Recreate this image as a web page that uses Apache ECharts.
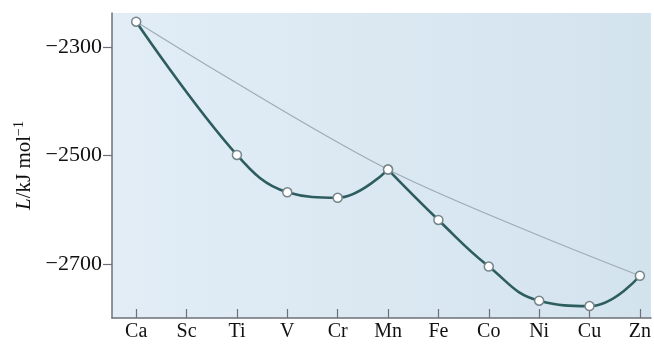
<!DOCTYPE html>
<html><head><meta charset="utf-8">
<script src="https://cdn.jsdelivr.net/npm/echarts@6/dist/echarts.min.js"></script>
<style>html,body{margin:0;padding:0;background:#fff}#c{width:654px;height:344px}</style>
</head><body><div id="c"></div>
<script>
const categories = ['Ca','Sc','Ti','V','Cr','Mn','Fe','Co','Ni','Cu','Zn'];
const latticeEnergy = [-2253, null, -2499, -2568, -2578, -2526, -2619, -2705, -2768, -2778, -2722];
const referenceCurve = [-2253, null, null, null, null, -2526, null, null, null, null, -2722];
const yTicks = [-2300, -2500, -2700];
const peakIndex = 5; // Mn: curve has a corner here

const pts = [];
latticeEnergy.forEach((v, i) => { if (v !== null) pts.push([i, v]); });
const leftPart = pts.filter(p => p[0] <= peakIndex);
const rightPart = pts.filter(p => p[0] >= peakIndex);
const refData = [];
referenceCurve.forEach((v, i) => { if (v !== null) refData.push([i, v]); });

const serif = '"Liberation Serif","DejaVu Serif",serif';
const lineStyle = {color: '#2e5d60', width: 2.6};
const itemStyle = {color: '#ffffff', borderColor: '#76868b', borderWidth: 1.5};
const chart = echarts.init(document.getElementById('c'), null, {renderer: 'canvas'});
chart.setOption({
  animation: false,
  grid: {
    left: 112, right: 0, top: 13, bottom: 26, show: true, borderWidth: 0,
    backgroundColor: new echarts.graphic.LinearGradient(0, 0, 1, 0, [
      {offset: 0, color: '#e2edf6'}, {offset: 1, color: '#d3e3ee'}
    ])
  },
  xAxis: {
    type: 'value', min: -0.48, max: 10.22, interval: 1,
    axisLine: {show: true, onZero: false, lineStyle: {color: '#6d7079', width: 1.5}},
    axisTick: {show: true, inside: true, length: 9, lineStyle: {color: '#6d7079', width: 1.2},
      customValues: categories.map((c, i) => i)},
    axisLabel: {fontFamily: serif, fontSize: 20, color: '#111', margin: 4,
      customValues: categories.map((c, i) => i),
      formatter: v => categories[Math.round(v)] || ''},
    splitLine: {show: false}
  },
  yAxis: {
    type: 'value', min: -2800, max: -2237,
    axisLine: {show: true, onZero: false, lineStyle: {color: '#6d7079', width: 1.5}},
    axisTick: {show: true, inside: false, length: 9, lineStyle: {color: '#6d7079', width: 1.2},
      customValues: yTicks},
    axisLabel: {fontFamily: serif, fontSize: 22, color: '#111', margin: 10,
      customValues: yTicks,
      formatter: v => String(v).replace('-', '\u2212')},
    splitLine: {show: false},
    name: '{i|L}{n|/kJ mol}{s|\u22121}',
    nameLocation: 'middle', nameGap: 71, nameRotate: 90,
    nameTextStyle: {
      rich: {
        i: {fontFamily: serif, fontSize: 21, fontStyle: 'italic', color: '#111'},
        n: {fontFamily: serif, fontSize: 21, color: '#111'},
        s: {fontFamily: serif, fontSize: 14, color: '#111', verticalAlign: 'top', padding: [0,0,10,0]}
      }
    }
  },
  series: [
    {
      type: 'line', data: refData, smooth: 0.3, symbol: 'none',
      lineStyle: {color: '#9eacb6', width: 1.2}, z: 2
    },
    {
      type: 'line', data: leftPart, smooth: 0.4, symbol: 'circle', symbolSize: 9,
      lineStyle: lineStyle, itemStyle: itemStyle, z: 3
    },
    {
      type: 'line', data: rightPart, smooth: 0.45, symbol: 'circle', symbolSize: 9,
      lineStyle: lineStyle, itemStyle: itemStyle, z: 3
    }
  ]
});
</script></body></html>
